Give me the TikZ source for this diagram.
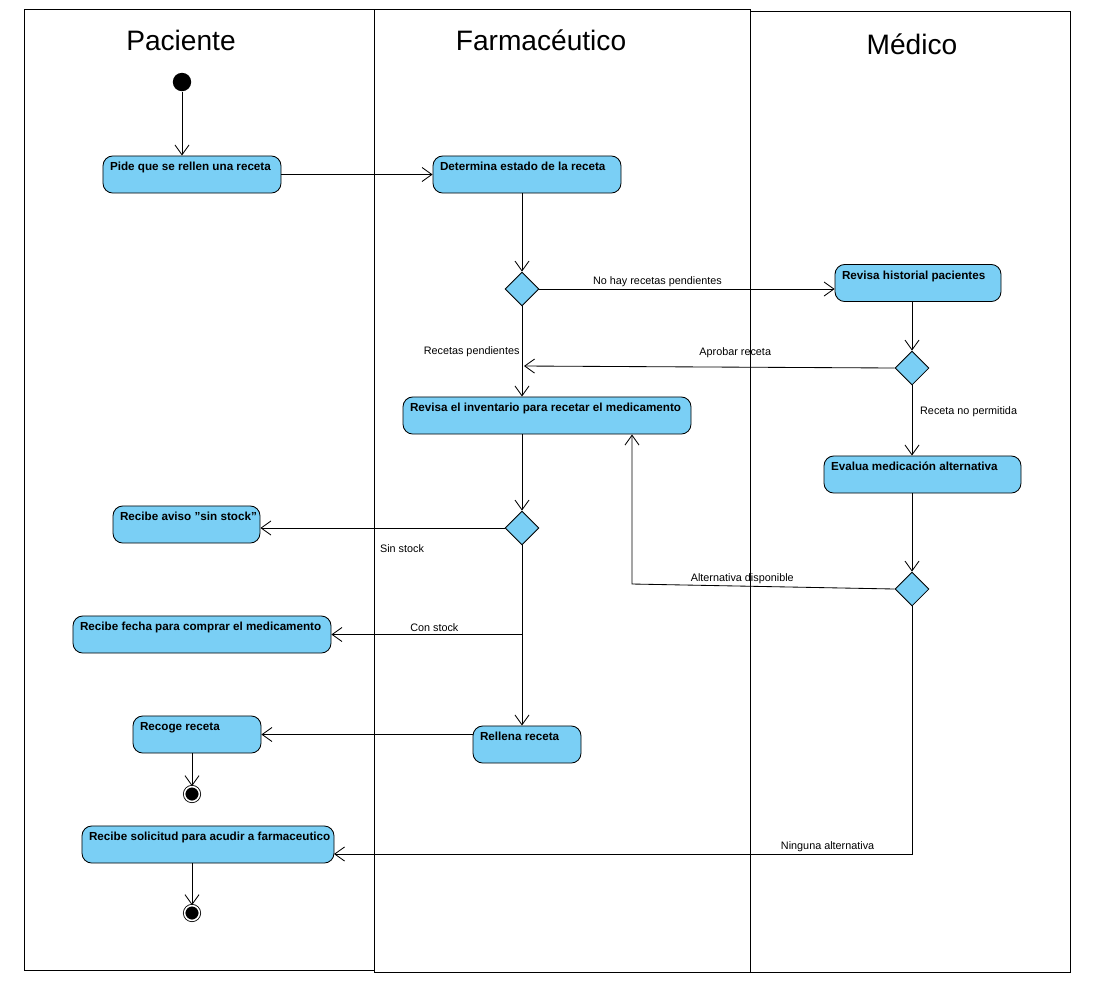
\documentclass[tikz,border=0pt]{standalone}
\usepackage{fontspec}
\setmainfont{Liberation Sans}
\usetikzlibrary{shapes.geometric,arrows.meta}
\definecolor{actblue}{RGB}{122,207,245}

\begin{document}
\begin{tikzpicture}[x=0.25mm, y=-0.25mm, line width=0.6pt,
	act/.style = {draw, rounded corners=7pt, fill=actblue, font=\bfseries\fontsize{8.3}{9}\selectfont, text height=7.2pt, text depth=12.8pt, inner xsep=5pt, inner ysep=3.2pt, text width=#1-10pt, align=flush left, execute at begin node={\hbox\bgroup}, execute at end node={\egroup}},
	dec/.style = {draw, diamond, fill=actblue, minimum size=8.5mm, inner sep=0pt, aspect=1},
	ini/.style = {circle, fill=black, minimum size=4.6mm, inner sep=0pt},
	fin/.style = {circle, draw, fill=black, minimum size=3.7mm, inner sep=0pt, double=white, double distance=1.1pt},
	lane/.style = {font=\fontsize{20}{24}\selectfont},
	lbl/.style = {font=\fontsize{7.7}{9}\selectfont, inner sep=1.5pt},
	flow/.style = {-{Straight Barb[length=7pt,width=10pt]}}]
		\useasboundingbox (0,0) rectangle (1100,1000);
		\draw (24,9) rectangle (374,970);
		\draw (374,9) rectangle (750,972);
		\draw (750,11) rectangle (1070,972);
		\node (p) [lane] at (181,40) {Paciente};
		\node (f) [lane] at (541,40) {Farmacéutico};
		\node (m) [lane] at (912,44) {Médico};
		\node (0) [ini] at (182,82) {};
		\node (1) [act=44.5mm] at (192,174.5) {Pide que se rellen una receta};
		\node (2) [act=47mm] at (527,174.5) {Determina estado de la receta};
		\node (3) [dec] at (522,289) {};
		\node (4) [act=41.5mm] at (918,283) {Revisa historial pacientes};
		\node (5) [dec] at (912,368) {};
		\node (6) [act=72mm] at (547,415.5) {Revisa el inventario para recetar el medicamento};
		\node (7) [act=49.25mm] at (922.5,474.5) {Evalua medicación alternativa};
		\node (8) [dec] at (522,528) {};
		\node (9) [act=36.75mm] at (186.5,524.5) {Recibe aviso \char34 sin stock\char34};
		\node (10) [dec] at (912,589) {};
		\node (11) [act=64.5mm] at (202,634.5) {Recibe fecha para comprar el medicamento};
		\node (12) [act=27mm] at (527,744.5) {Rellena receta};
		\node (13) [act=32mm] at (197,734.5) {Recoge receta};
		\node (14) [fin] at (192,794) {};
		\node (15) [act=63mm] at (208,844.5) {Recibe solicitud para acudir a farmaceutico};
		\node (16) [fin] at (192,913) {};
		\coordinate (a) at (524,366);
		\coordinate (b) at (632,584);
		\coordinate (n) at (334,854);
		\draw[flow]  (0) -- (0 |- 1.north);
		\draw[flow]  (1) -- (2);
		\draw[flow]  (3 |- 2.south) -- (3);
		\draw[flow]  (3.east) -- (3.east -| 4.west) node[lbl,above,pos=0.4] {No hay recetas pendientes};
		\draw[flow]  (3.south) -- (3 |- 6.north) node[lbl,left,midway] {Recetas pendientes};
		\draw[flow]  (5 |- 4.south) -- (5);
		\draw[flow]  (5.west) -- (a) node[lbl,above=5pt,pos=0.43] {Aprobar receta};
		\draw[flow]  (5.south) -- (5 |- 7.north) node[lbl,right=4pt,pos=0.37] {Receta no permitida};
		\draw[flow]  (8 |- 6.south) -- (8);
		\draw[flow]  (8.west) -- (8.west -| 9.east) node[lbl,below=10pt,pos=0.42] {Sin stock};
		\draw[flow]  (8.south) |- (11.east) node[lbl,above,pos=0.73] {Con stock};
		\draw[flow]  (8.south) -- (8 |- 12.north);
		\draw[flow]  (10 |- 7.south) -- (10);
		\draw[flow]  (10.west) -- node[lbl,above,pos=0.58] {Alternativa disponible} (b) -- (b |- 6.south);
		\draw[flow]  (10.south) |- (n) node[lbl,above,pos=0.573] {Ninguna alternativa};
		\draw[flow]  (12.west |- 13.east) -- (13.east);
		\draw[flow]  (14 |- 13.south) -- (14);
		\draw[flow]  (16 |- 15.south) -- (16);
	\end{tikzpicture}
\end{document}
